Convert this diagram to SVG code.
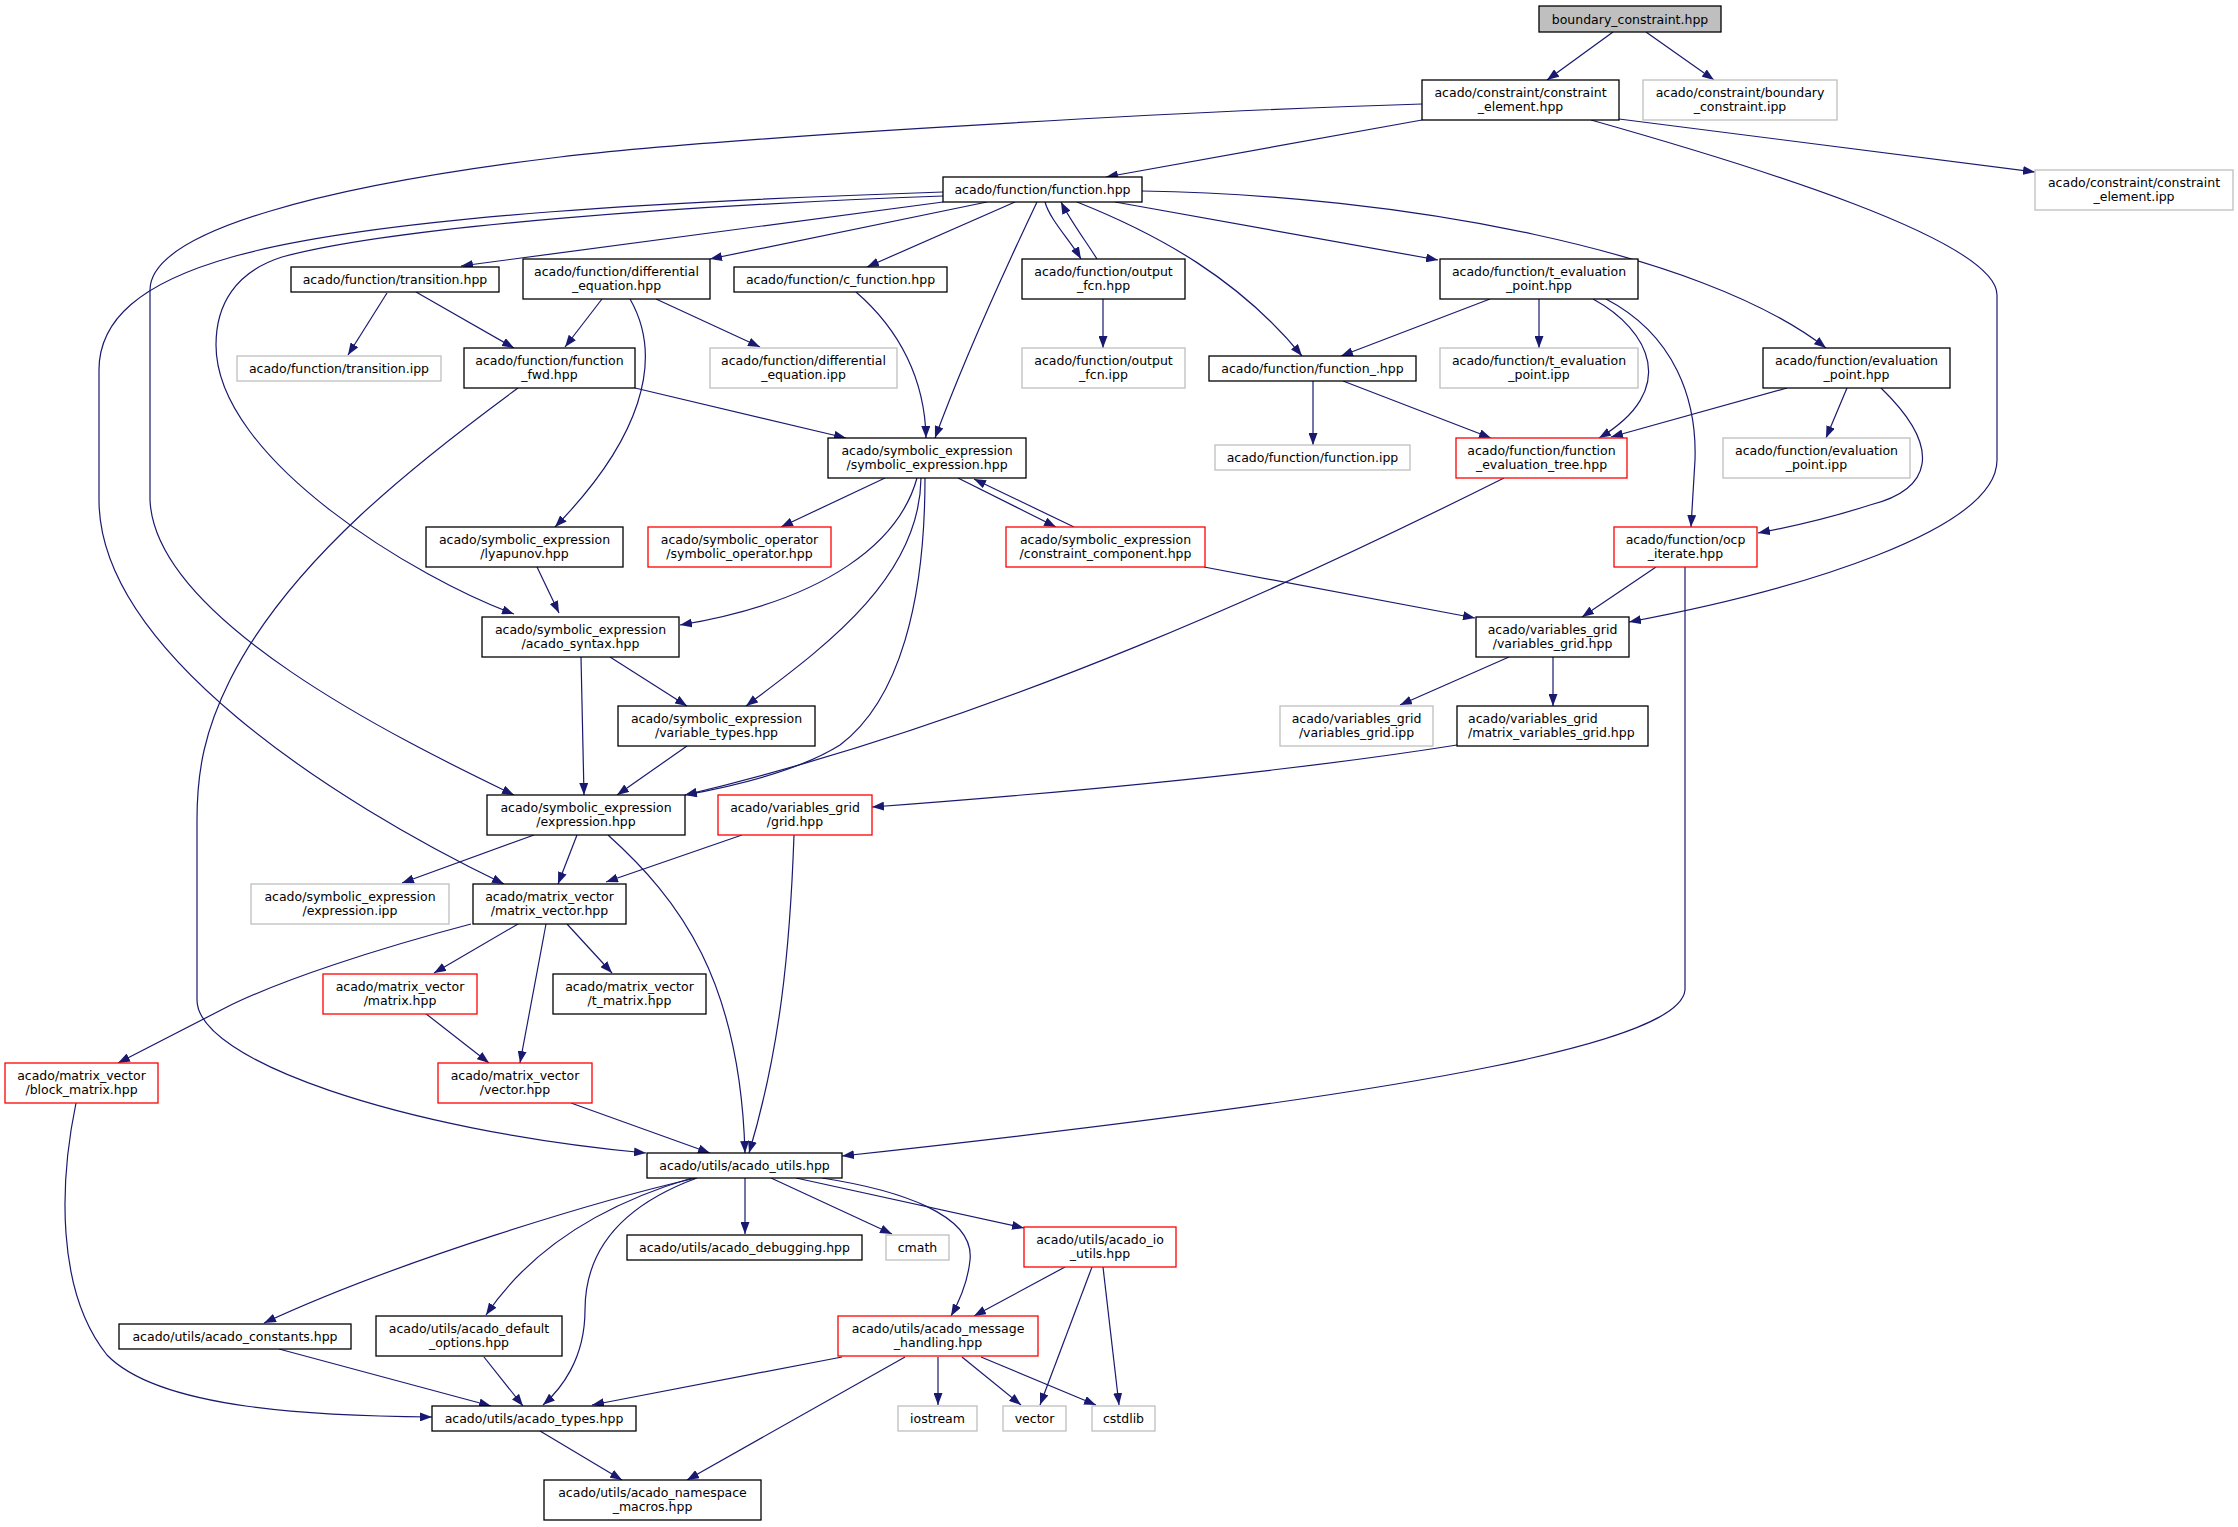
<svg xmlns="http://www.w3.org/2000/svg" width="2238" height="1527" viewBox="0 0 2238 1527">
<style>
.n rect{fill:#fff;stroke:#000;stroke-width:1.3}
.g rect{stroke:#bfbfbf}
.r rect{stroke:#ff0000}
.root rect{fill:#bfbfbf}
text{font-family:"DejaVu Sans",sans-serif;font-size:12.5px;fill:#000;text-anchor:middle}
text.l{text-anchor:start}
#edges path{fill:none;stroke:#191970;stroke-width:1.2;marker-end:url(#a)}
</style>
<defs>
<marker id="a" markerUnits="userSpaceOnUse" viewBox="0 0 12 9" refX="12" refY="4.5" markerWidth="12" markerHeight="9" orient="auto">
<path d="M0,0 L12,4.5 L0,9 z" fill="#191970"/>
</marker>
</defs>
<rect width="2238" height="1527" fill="#fff"/>
<g id="edges">
<path d="M1613,32 L1547,80"/>
<path d="M1646,32 L1714,80"/>
<path d="M1422,120 L1106,177"/>
<path d="M1422,104 C1150,112 700,140 560,157 C330,185 150,230 150,290 L150,500 C155,620 400,740 514,795"/>
<path d="M943,192 C700,200 380,215 232,257 C140,283 99,320 99,370 L99,500 C99,650 330,800 504,884"/>
<path d="M943,196 C700,205 400,225 282,257 C235,272 216,305 216,345 C216,460 420,580 514,614"/>
<path d="M1591,120 C1750,165 1997,240 1997,295 L1997,460 C1997,530 1800,590 1629,622"/>
<path d="M1619,119 L2035,172"/>
<path d="M943,202 L461,266"/>
<path d="M987,202 L710,259"/>
<path d="M1015,202 L867,267"/>
<path d="M1037,202 C1000,280 960,370 935,438"/>
<path d="M1045,202 C1050,220 1070,240 1081,259"/>
<path d="M1097,259 C1085,240 1070,220 1061,202"/>
<path d="M1077,202 C1160,235 1240,280 1302,356"/>
<path d="M1115,202 L1438,260"/>
<path d="M1142,191 C1400,195 1700,250 1826,348"/>
<path d="M630,299 C665,360 640,440 555,527"/>
<path d="M602,299 L565,347"/>
<path d="M656,299 L760,347"/>
<path d="M387,293 L348,355"/>
<path d="M416,292 L514,348"/>
<path d="M635,388 L846,438"/>
<path d="M518,388 C420,460 290,560 230,680 C205,730 197,770 197,820 L197,1000 C197,1060 400,1130 646,1153"/>
<path d="M856,292 C900,330 925,380 926,438"/>
<path d="M1103,299 L1103,348"/>
<path d="M1490,299 L1341,356"/>
<path d="M1539,299 L1539,348"/>
<path d="M1593,299 C1650,330 1680,390 1599,438"/>
<path d="M1606,299 C1675,335 1697,400 1695,460 L1691,527"/>
<path d="M1313,381 L1313,445"/>
<path d="M1343,381 L1491,438"/>
<path d="M1787,388 L1611,437"/>
<path d="M1847,388 L1826,438"/>
<path d="M1881,388 C1945,450 1930,490 1870,505 C1830,518 1790,527 1758,533"/>
<path d="M1504,478 C1300,580 1000,720 685,795"/>
<path d="M885,478 L781,527"/>
<path d="M917,478 C900,540 830,600 680,625"/>
<path d="M921,478 C920,580 820,650 746,706"/>
<path d="M925,478 C925,600 900,700 840,745 C800,770 740,785 685,795"/>
<path d="M958,478 L1056,527"/>
<path d="M1074,527 L974,479"/>
<path d="M1204,567 L1475,618"/>
<path d="M1656,567 L1582,617"/>
<path d="M1685,567 L1685,990 C1680,1040 1450,1090 842,1156"/>
<path d="M537,567 L559,613"/>
<path d="M610,657 L687,706"/>
<path d="M581,657 L584,795"/>
<path d="M687,746 L617,795"/>
<path d="M1509,657 L1400,705"/>
<path d="M1553,657 L1553,706"/>
<path d="M1457,745 C1300,770 1100,790 872,807"/>
<path d="M534,835 L402,883"/>
<path d="M577,835 L558,884"/>
<path d="M608,835 C680,900 740,980 745,1153"/>
<path d="M742,835 L606,882"/>
<path d="M794,835 C790,950 780,1050 749,1153"/>
<path d="M471,924 C380,948 280,980 225,1008 L118,1063"/>
<path d="M518,924 L434,973"/>
<path d="M546,924 L520,1063"/>
<path d="M567,924 L612,973"/>
<path d="M425,1013 L489,1063"/>
<path d="M571,1103 L710,1153"/>
<path d="M76,1103 C60,1180 55,1290 107,1355 C160,1410 320,1416 432,1417"/>
<path d="M696,1178 C600,1200 400,1260 264,1323"/>
<path d="M692,1178 C600,1205 530,1250 486,1315"/>
<path d="M697,1178 C610,1210 585,1260 585,1310 C585,1360 560,1390 543,1405"/>
<path d="M745,1178 L745,1234"/>
<path d="M771,1178 L892,1234"/>
<path d="M796,1178 L1024,1228"/>
<path d="M822,1178 C900,1190 975,1215 970,1260 C968,1280 960,1300 951,1316"/>
<path d="M1065,1267 L974,1316"/>
<path d="M1092,1267 L1040,1405"/>
<path d="M1103,1267 L1119,1405"/>
<path d="M842,1357 L592,1405"/>
<path d="M905,1357 L687,1480"/>
<path d="M938,1357 L938,1405"/>
<path d="M962,1357 L1021,1405"/>
<path d="M981,1357 L1096,1405"/>
<path d="M279,1349 L491,1406"/>
<path d="M484,1357 L523,1406"/>
<path d="M540,1431 L622,1480"/>
</g>
<g id="n1" class="n root"><rect x="1539" y="6" width="182" height="26"/><text x="1630" y="23.5">boundary_constraint.hpp</text></g>
<g id="n2" class="n"><rect x="1422" y="80" width="197" height="40"/><text x="1520.5" y="96.5">acado/constraint/constraint</text><text x="1520.5" y="111">_element.hpp</text></g>
<g id="n3" class="n g"><rect x="1643" y="80" width="194" height="40"/><text x="1740" y="96.5">acado/constraint/boundary</text><text x="1740" y="111">_constraint.ipp</text></g>
<g id="n4" class="n"><rect x="943" y="177" width="199" height="25"/><text x="1042.5" y="194">acado/function/function.hpp</text></g>
<g id="n5" class="n g"><rect x="2035" y="170" width="198" height="40"/><text x="2134" y="186.5">acado/constraint/constraint</text><text x="2134" y="201">_element.ipp</text></g>
<g id="n6" class="n"><rect x="291" y="267" width="208" height="25"/><text x="395" y="284">acado/function/transition.hpp</text></g>
<g id="n7" class="n"><rect x="523" y="259" width="187" height="40"/><text x="616.5" y="275.5">acado/function/differential</text><text x="616.5" y="290">_equation.hpp</text></g>
<g id="n8" class="n"><rect x="734" y="267" width="213" height="25"/><text x="840.5" y="284">acado/function/c_function.hpp</text></g>
<g id="n9" class="n"><rect x="1022" y="259" width="163" height="40"/><text x="1103.5" y="275.5">acado/function/output</text><text x="1103.5" y="290">_fcn.hpp</text></g>
<g id="n10" class="n"><rect x="1440" y="259" width="198" height="40"/><text x="1539" y="275.5">acado/function/t_evaluation</text><text x="1539" y="290">_point.hpp</text></g>
<g id="n11" class="n"><rect x="1763" y="348" width="187" height="40"/><text x="1856.5" y="364.5">acado/function/evaluation</text><text x="1856.5" y="379">_point.hpp</text></g>
<g id="n12" class="n g"><rect x="237" y="356" width="204" height="25"/><text x="339" y="373">acado/function/transition.ipp</text></g>
<g id="n13" class="n"><rect x="464" y="348" width="171" height="40"/><text x="549.5" y="364.5">acado/function/function</text><text x="549.5" y="379">_fwd.hpp</text></g>
<g id="n14" class="n g"><rect x="710" y="348" width="187" height="40"/><text x="803.5" y="364.5">acado/function/differential</text><text x="803.5" y="379">_equation.ipp</text></g>
<g id="n15" class="n g"><rect x="1022" y="348" width="163" height="40"/><text x="1103.5" y="364.5">acado/function/output</text><text x="1103.5" y="379">_fcn.ipp</text></g>
<g id="n16" class="n"><rect x="1209" y="356" width="207" height="25"/><text x="1312.5" y="373">acado/function/function_.hpp</text></g>
<g id="n17" class="n g"><rect x="1440" y="348" width="198" height="40"/><text x="1539" y="364.5">acado/function/t_evaluation</text><text x="1539" y="379">_point.ipp</text></g>
<g id="n18" class="n g"><rect x="1215" y="445" width="195" height="25"/><text x="1312.5" y="462">acado/function/function.ipp</text></g>
<g id="n19" class="n r"><rect x="1456" y="438" width="171" height="40"/><text x="1541.5" y="454.5">acado/function/function</text><text x="1541.5" y="469">_evaluation_tree.hpp</text></g>
<g id="n20" class="n g"><rect x="1723" y="438" width="187" height="40"/><text x="1816.5" y="454.5">acado/function/evaluation</text><text x="1816.5" y="469">_point.ipp</text></g>
<g id="n21" class="n"><rect x="828" y="438" width="198" height="40"/><text x="927" y="454.5">acado/symbolic_expression</text><text x="927" y="469">/symbolic_expression.hpp</text></g>
<g id="n22" class="n"><rect x="426" y="527" width="197" height="40"/><text x="524.5" y="543.5">acado/symbolic_expression</text><text x="524.5" y="558">/lyapunov.hpp</text></g>
<g id="n23" class="n r"><rect x="648" y="527" width="183" height="40"/><text x="739.5" y="543.5">acado/symbolic_operator</text><text x="739.5" y="558">/symbolic_operator.hpp</text></g>
<g id="n24" class="n r"><rect x="1006" y="527" width="199" height="40"/><text x="1105.5" y="543.5">acado/symbolic_expression</text><text x="1105.5" y="558">/constraint_component.hpp</text></g>
<g id="n25" class="n r"><rect x="1614" y="527" width="143" height="40"/><text x="1685.5" y="543.5">acado/function/ocp</text><text x="1685.5" y="558">_iterate.hpp</text></g>
<g id="n26" class="n"><rect x="482" y="617" width="197" height="40"/><text x="580.5" y="633.5">acado/symbolic_expression</text><text x="580.5" y="648">/acado_syntax.hpp</text></g>
<g id="n27" class="n"><rect x="1476" y="617" width="153" height="40"/><text x="1552.5" y="633.5">acado/variables_grid</text><text x="1552.5" y="648">/variables_grid.hpp</text></g>
<g id="n28" class="n"><rect x="618" y="706" width="197" height="40"/><text x="716.5" y="722.5">acado/symbolic_expression</text><text x="716.5" y="737">/variable_types.hpp</text></g>
<g id="n29" class="n g"><rect x="1280" y="706" width="153" height="40"/><text x="1356.5" y="722.5">acado/variables_grid</text><text x="1356.5" y="737">/variables_grid.ipp</text></g>
<g id="n30" class="n"><rect x="1457" y="706" width="191" height="40"/><text class="l" x="1468" y="722.5">acado/variables_grid</text><text class="l" x="1468" y="737">/matrix_variables_grid.hpp</text></g>
<g id="n31" class="n"><rect x="487" y="795" width="198" height="40"/><text x="586" y="811.5">acado/symbolic_expression</text><text x="586" y="826">/expression.hpp</text></g>
<g id="n32" class="n r"><rect x="718" y="795" width="154" height="40"/><text x="795" y="811.5">acado/variables_grid</text><text x="795" y="826">/grid.hpp</text></g>
<g id="n33" class="n g"><rect x="251" y="884" width="198" height="40"/><text x="350" y="900.5">acado/symbolic_expression</text><text x="350" y="915">/expression.ipp</text></g>
<g id="n34" class="n"><rect x="473" y="884" width="153" height="40"/><text x="549.5" y="900.5">acado/matrix_vector</text><text x="549.5" y="915">/matrix_vector.hpp</text></g>
<g id="n35" class="n r"><rect x="323" y="974" width="154" height="40"/><text x="400" y="990.5">acado/matrix_vector</text><text x="400" y="1005">/matrix.hpp</text></g>
<g id="n36" class="n"><rect x="553" y="974" width="153" height="40"/><text x="629.5" y="990.5">acado/matrix_vector</text><text x="629.5" y="1005">/t_matrix.hpp</text></g>
<g id="n37" class="n r"><rect x="5" y="1063" width="153" height="40"/><text x="81.5" y="1079.5">acado/matrix_vector</text><text x="81.5" y="1094">/block_matrix.hpp</text></g>
<g id="n38" class="n r"><rect x="438" y="1063" width="154" height="40"/><text x="515" y="1079.5">acado/matrix_vector</text><text x="515" y="1094">/vector.hpp</text></g>
<g id="n39" class="n"><rect x="647" y="1153" width="195" height="25"/><text x="744.5" y="1170">acado/utils/acado_utils.hpp</text></g>
<g id="n40" class="n"><rect x="627" y="1235" width="235" height="25"/><text x="744.5" y="1252">acado/utils/acado_debugging.hpp</text></g>
<g id="n41" class="n g"><rect x="886" y="1235" width="63" height="25"/><text x="917.5" y="1252">cmath</text></g>
<g id="n42" class="n r"><rect x="1024" y="1227" width="152" height="40"/><text x="1100" y="1243.5">acado/utils/acado_io</text><text x="1100" y="1258">_utils.hpp</text></g>
<g id="n43" class="n"><rect x="119" y="1324" width="232" height="25"/><text x="235" y="1341">acado/utils/acado_constants.hpp</text></g>
<g id="n44" class="n"><rect x="376" y="1316" width="186" height="40"/><text x="469" y="1332.5">acado/utils/acado_default</text><text x="469" y="1347">_options.hpp</text></g>
<g id="n45" class="n r"><rect x="838" y="1316" width="200" height="40"/><text x="938" y="1332.5">acado/utils/acado_message</text><text x="938" y="1347">_handling.hpp</text></g>
<g id="n46" class="n"><rect x="432" y="1406" width="204" height="25"/><text x="534" y="1423">acado/utils/acado_types.hpp</text></g>
<g id="n47" class="n g"><rect x="898" y="1406" width="79" height="25"/><text x="937.5" y="1423">iostream</text></g>
<g id="n48" class="n g"><rect x="1003" y="1406" width="63" height="25"/><text x="1034.5" y="1423">vector</text></g>
<g id="n49" class="n g"><rect x="1092" y="1406" width="63" height="25"/><text x="1123.5" y="1423">cstdlib</text></g>
<g id="n50" class="n"><rect x="544" y="1480" width="217" height="40"/><text x="652.5" y="1496.5">acado/utils/acado_namespace</text><text x="652.5" y="1511">_macros.hpp</text></g>
</svg>
